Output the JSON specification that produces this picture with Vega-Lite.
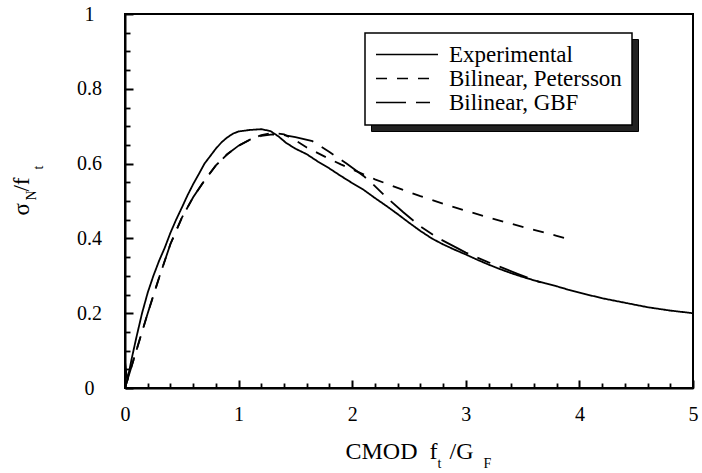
{
  "$schema": "https://vega.github.io/schema/vega-lite/v6.json",
  "autosize": "none",
  "width": 568,
  "height": 374,
  "padding": {"left": 125, "top": 14, "right": 9, "bottom": 85},
  "background": "white",
  "config": {
    "view": {"stroke": "black", "strokeWidth": 2},
    "axis": {"grid": false, "domainColor": "black", "domainWidth": 2, "tickColor": "black", "tickWidth": 1.8, "labelFont": "Liberation Serif", "labelColor": "black", "labelFontSize": 20, "titleFont": "Liberation Serif", "titleColor": "black", "titleFontWeight": "normal"}
  },
  "datasets": {
    "curves": [
      {"series": "Experimental", "x": 0.0, "y": 0.07},
      {"series": "Experimental", "x": 0.02, "y": 0.02},
      {"series": "Experimental", "x": 0.06, "y": 0.08},
      {"series": "Experimental", "x": 0.1, "y": 0.135},
      {"series": "Experimental", "x": 0.15, "y": 0.2},
      {"series": "Experimental", "x": 0.2, "y": 0.255},
      {"series": "Experimental", "x": 0.25, "y": 0.3},
      {"series": "Experimental", "x": 0.3, "y": 0.34},
      {"series": "Experimental", "x": 0.35, "y": 0.375},
      {"series": "Experimental", "x": 0.4, "y": 0.415},
      {"series": "Experimental", "x": 0.45, "y": 0.45},
      {"series": "Experimental", "x": 0.5, "y": 0.482},
      {"series": "Experimental", "x": 0.55, "y": 0.515},
      {"series": "Experimental", "x": 0.6, "y": 0.545},
      {"series": "Experimental", "x": 0.65, "y": 0.572},
      {"series": "Experimental", "x": 0.7, "y": 0.6},
      {"series": "Experimental", "x": 0.75, "y": 0.62},
      {"series": "Experimental", "x": 0.8, "y": 0.64},
      {"series": "Experimental", "x": 0.85, "y": 0.657},
      {"series": "Experimental", "x": 0.9, "y": 0.67},
      {"series": "Experimental", "x": 0.95, "y": 0.68},
      {"series": "Experimental", "x": 1.0, "y": 0.686},
      {"series": "Experimental", "x": 1.1, "y": 0.69},
      {"series": "Experimental", "x": 1.2, "y": 0.692},
      {"series": "Experimental", "x": 1.28, "y": 0.687},
      {"series": "Experimental", "x": 1.35, "y": 0.673},
      {"series": "Experimental", "x": 1.42, "y": 0.655},
      {"series": "Experimental", "x": 1.5, "y": 0.64},
      {"series": "Experimental", "x": 1.6, "y": 0.625},
      {"series": "Experimental", "x": 1.7, "y": 0.605},
      {"series": "Experimental", "x": 1.8, "y": 0.587},
      {"series": "Experimental", "x": 1.9, "y": 0.567},
      {"series": "Experimental", "x": 2.0, "y": 0.548},
      {"series": "Experimental", "x": 2.1, "y": 0.53},
      {"series": "Experimental", "x": 2.2, "y": 0.508},
      {"series": "Experimental", "x": 2.3, "y": 0.487},
      {"series": "Experimental", "x": 2.4, "y": 0.465},
      {"series": "Experimental", "x": 2.5, "y": 0.442},
      {"series": "Experimental", "x": 2.6, "y": 0.42},
      {"series": "Experimental", "x": 2.7, "y": 0.4},
      {"series": "Experimental", "x": 2.8, "y": 0.384},
      {"series": "Experimental", "x": 2.9, "y": 0.37},
      {"series": "Experimental", "x": 3.0, "y": 0.357},
      {"series": "Experimental", "x": 3.1, "y": 0.343},
      {"series": "Experimental", "x": 3.2, "y": 0.33},
      {"series": "Experimental", "x": 3.3, "y": 0.318},
      {"series": "Experimental", "x": 3.4, "y": 0.307},
      {"series": "Experimental", "x": 3.5, "y": 0.297},
      {"series": "Experimental", "x": 3.6, "y": 0.288},
      {"series": "Experimental", "x": 3.7, "y": 0.28},
      {"series": "Experimental", "x": 3.8, "y": 0.272},
      {"series": "Experimental", "x": 3.9, "y": 0.263},
      {"series": "Experimental", "x": 4.0, "y": 0.255},
      {"series": "Experimental", "x": 4.2, "y": 0.24},
      {"series": "Experimental", "x": 4.4, "y": 0.228},
      {"series": "Experimental", "x": 4.6, "y": 0.216},
      {"series": "Experimental", "x": 4.8, "y": 0.207},
      {"series": "Experimental", "x": 5.0, "y": 0.2},
      {"series": "Bilinear, Petersson", "x": 0.0, "y": 0.0},
      {"series": "Bilinear, Petersson", "x": 0.1, "y": 0.1},
      {"series": "Bilinear, Petersson", "x": 0.2, "y": 0.2},
      {"series": "Bilinear, Petersson", "x": 0.3, "y": 0.295},
      {"series": "Bilinear, Petersson", "x": 0.4, "y": 0.385},
      {"series": "Bilinear, Petersson", "x": 0.5, "y": 0.455},
      {"series": "Bilinear, Petersson", "x": 0.6, "y": 0.51},
      {"series": "Bilinear, Petersson", "x": 0.7, "y": 0.555},
      {"series": "Bilinear, Petersson", "x": 0.8, "y": 0.595},
      {"series": "Bilinear, Petersson", "x": 0.9, "y": 0.625},
      {"series": "Bilinear, Petersson", "x": 1.0, "y": 0.648},
      {"series": "Bilinear, Petersson", "x": 1.1, "y": 0.664},
      {"series": "Bilinear, Petersson", "x": 1.2, "y": 0.676},
      {"series": "Bilinear, Petersson", "x": 1.3, "y": 0.682},
      {"series": "Bilinear, Petersson", "x": 1.4, "y": 0.678},
      {"series": "Bilinear, Petersson", "x": 1.5, "y": 0.662},
      {"series": "Bilinear, Petersson", "x": 1.6, "y": 0.643},
      {"series": "Bilinear, Petersson", "x": 1.75, "y": 0.62},
      {"series": "Bilinear, Petersson", "x": 1.9, "y": 0.598},
      {"series": "Bilinear, Petersson", "x": 2.05, "y": 0.578},
      {"series": "Bilinear, Petersson", "x": 2.2, "y": 0.558},
      {"series": "Bilinear, Petersson", "x": 2.4, "y": 0.535},
      {"series": "Bilinear, Petersson", "x": 2.6, "y": 0.513},
      {"series": "Bilinear, Petersson", "x": 2.8, "y": 0.493},
      {"series": "Bilinear, Petersson", "x": 3.0, "y": 0.474},
      {"series": "Bilinear, Petersson", "x": 3.2, "y": 0.456},
      {"series": "Bilinear, Petersson", "x": 3.4, "y": 0.439},
      {"series": "Bilinear, Petersson", "x": 3.6, "y": 0.423},
      {"series": "Bilinear, Petersson", "x": 3.8, "y": 0.407},
      {"series": "Bilinear, Petersson", "x": 3.93, "y": 0.396},
      {"series": "Bilinear, GBF", "x": 0.0, "y": 0.0},
      {"series": "Bilinear, GBF", "x": 0.1, "y": 0.1},
      {"series": "Bilinear, GBF", "x": 0.2, "y": 0.2},
      {"series": "Bilinear, GBF", "x": 0.3, "y": 0.295},
      {"series": "Bilinear, GBF", "x": 0.4, "y": 0.385},
      {"series": "Bilinear, GBF", "x": 0.5, "y": 0.455},
      {"series": "Bilinear, GBF", "x": 0.6, "y": 0.51},
      {"series": "Bilinear, GBF", "x": 0.7, "y": 0.555},
      {"series": "Bilinear, GBF", "x": 0.8, "y": 0.595},
      {"series": "Bilinear, GBF", "x": 0.9, "y": 0.625},
      {"series": "Bilinear, GBF", "x": 1.0, "y": 0.648},
      {"series": "Bilinear, GBF", "x": 1.1, "y": 0.664},
      {"series": "Bilinear, GBF", "x": 1.2, "y": 0.674},
      {"series": "Bilinear, GBF", "x": 1.3, "y": 0.678},
      {"series": "Bilinear, GBF", "x": 1.4, "y": 0.676},
      {"series": "Bilinear, GBF", "x": 1.5, "y": 0.671},
      {"series": "Bilinear, GBF", "x": 1.65, "y": 0.66},
      {"series": "Bilinear, GBF", "x": 1.8, "y": 0.631},
      {"series": "Bilinear, GBF", "x": 1.95, "y": 0.6},
      {"series": "Bilinear, GBF", "x": 2.1, "y": 0.567},
      {"series": "Bilinear, GBF", "x": 2.2, "y": 0.54},
      {"series": "Bilinear, GBF", "x": 2.3, "y": 0.51},
      {"series": "Bilinear, GBF", "x": 2.45, "y": 0.47},
      {"series": "Bilinear, GBF", "x": 2.6, "y": 0.432},
      {"series": "Bilinear, GBF", "x": 2.75, "y": 0.402},
      {"series": "Bilinear, GBF", "x": 2.9, "y": 0.378},
      {"series": "Bilinear, GBF", "x": 3.0, "y": 0.362},
      {"series": "Bilinear, GBF", "x": 3.2, "y": 0.336},
      {"series": "Bilinear, GBF", "x": 3.45, "y": 0.306},
      {"series": "Bilinear, GBF", "x": 3.66, "y": 0.282}
    ]
  },
  "data": {"name": "curves"},
  "layer": [
    {
      "mark": {"type": "line", "strokeWidth": 1.8, "clip": true},
      "encoding": {
        "x": {"field": "x", "type": "quantitative", "scale": {"domain": [0, 5], "nice": false},
          "axis": {"orient": "bottom", "values": [0, 1, 2, 3, 4, 5], "tickSize": 0, "tickOpacity": 0, "labelPadding": 16, "labelFlush": false, "title": "CMOD\u00a0\u00a0f\u00a0\u00a0/G", "titleFontSize": 24, "titleX": 284, "titleY": 70, "titleAlign": "center", "titleBaseline": "alphabetic"}},
        "y": {"field": "y", "type": "quantitative", "scale": {"domain": [0, 1], "nice": false},
          "axis": {"orient": "left", "values": [0, 0.2, 0.4, 0.6, 0.8, 1], "format": "~g", "tickSize": 0, "tickOpacity": 0, "labelAlign": "center", "labelBaseline": "middle", "labelPadding": 36, "labelFlush": false, "title": "\u03c3\u00a0\u00a0/f", "titleFontSize": 23, "titleAngle": -90, "titleX": -97, "titleY": 182, "titleAlign": "center", "titleBaseline": "alphabetic"}},
        "strokeDash": {"field": "series", "type": "nominal",
          "scale": {"domain": ["Experimental", "Bilinear, Petersson", "Bilinear, GBF"], "range": [[1, 0], [11, 10], [30, 10, 14, 10]]},
          "legend": {"orient": "none", "legendX": 240, "legendY": 19, "zindex": 2, "title": null, "fillColor": "white", "strokeColor": "black", "padding": 10, "symbolType": "stroke", "symbolSize": 3844, "symbolStrokeWidth": 1.5, "symbolStrokeColor": "black", "clipHeight": 23, "rowPadding": 0, "labelOffset": 10, "labelFont": "Liberation Serif", "labelFontSize": 23, "labelColor": "black", "labelLimit": 400,
            "encode": {"legend": {"update": {"strokeWidth": {"value": 1.5}, "fill": {"value": "white"}, "stroke": {"value": "black"}}}}}},
        "color": {"field": "series", "type": "nominal",
          "scale": {"domain": ["Bilinear, GBF", "Bilinear, Petersson", "Experimental"], "range": ["black", "black", "black"]},
          "legend": {"orient": "none", "legendX": 246, "legendY": 25, "zindex": 1, "title": null, "fillColor": "black", "strokeColor": "black", "padding": 10, "symbolType": "stroke", "symbolSize": 3844, "symbolStrokeWidth": 1.5, "symbolStrokeColor": "#222222", "clipHeight": 23, "rowPadding": 0, "labelOffset": 10, "labelFont": "Liberation Serif", "labelFontSize": 23, "labelColor": "#222222", "labelLimit": 400,
            "encode": {"legend": {"update": {"fill": {"value": "#222222"}, "stroke": {"value": "black"}}}}}}
      }
    },
    {
      "mark": {"type": "line", "opacity": 0},
      "encoding": {
        "x": {"field": "x", "type": "quantitative",
          "axis": {"orient": "bottom", "offset": -8, "values": [0, 1, 2, 3, 4, 5], "ticks": true, "tickSize": 8, "tickColor": "black", "tickOpacity": 1, "tickWidth": 2, "labels": false, "domain": false, "title": "t", "titleFontSize": 14, "titleX": 314, "titleY": 87, "titleAlign": "center", "titleBaseline": "alphabetic"}},
        "y": {"field": "y", "type": "quantitative",
          "axis": {"orient": "left", "offset": -8, "values": [0, 0.2, 0.4, 0.6, 0.8, 1], "ticks": true, "tickSize": 8, "tickColor": "black", "tickOpacity": 1, "tickWidth": 2, "labels": false, "domain": false, "title": "N", "titleFontSize": 14, "titleAngle": -90, "titleX": -98, "titleY": 181, "titleAlign": "center", "titleBaseline": "alphabetic"}}
      }
    },
    {
      "mark": {"type": "line", "opacity": 0},
      "encoding": {
        "x": {"field": "x", "type": "quantitative",
          "axis": {"orient": "bottom", "offset": -5, "values": [0.2, 0.4, 0.6, 0.8, 1.2, 1.4, 1.6, 1.8, 2.2, 2.4, 2.6, 2.8, 3.2, 3.4, 3.6, 3.8, 4.2, 4.4, 4.6, 4.8], "ticks": true, "tickSize": 5, "tickColor": "black", "tickOpacity": 1, "tickWidth": 1.8, "labels": false, "domain": false, "title": "F", "titleFontSize": 14, "titleX": 362, "titleY": 84, "titleAlign": "center", "titleBaseline": "alphabetic"}},
        "y": {"field": "y", "type": "quantitative",
          "axis": {"orient": "left", "offset": -5, "values": [0.05, 0.1, 0.15, 0.25, 0.3, 0.35, 0.45, 0.5, 0.55, 0.65, 0.7, 0.75, 0.85, 0.9, 0.95], "ticks": true, "tickSize": 5, "tickColor": "black", "tickOpacity": 1, "tickWidth": 1.8, "labels": false, "domain": false, "title": "t", "titleFontSize": 14, "titleAngle": -90, "titleX": -88, "titleY": 153, "titleAlign": "center", "titleBaseline": "alphabetic"}}
      }
    }
  ],
  "resolve": {"axis": {"x": "independent", "y": "independent"}}
}
